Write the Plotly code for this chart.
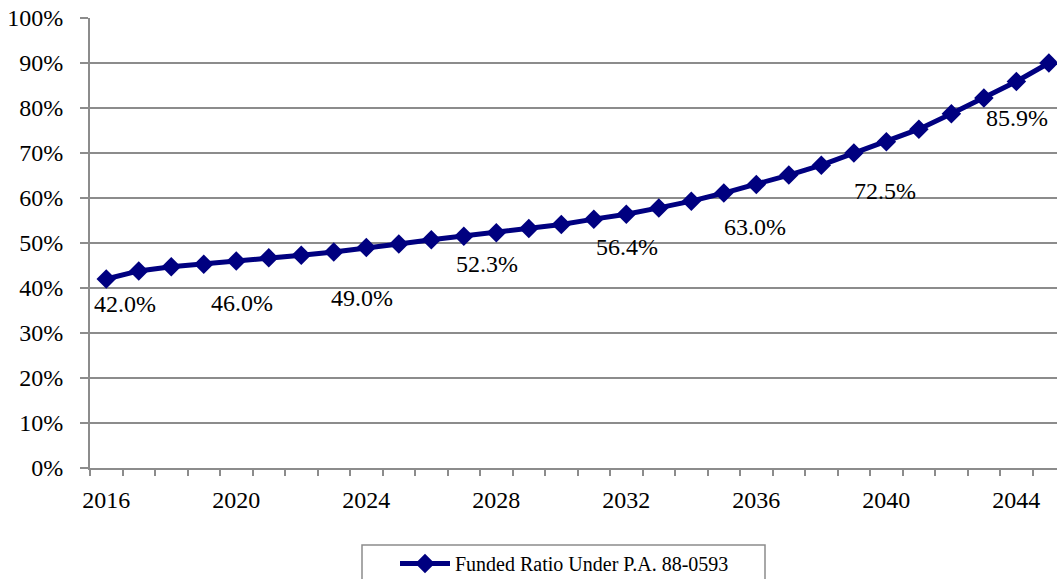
import plotly.graph_objects as go

years = list(range(2016, 2046))
funded_ratio = [42.0, 43.8, 44.7, 45.3, 46.0, 46.7, 47.3, 48.0, 49.0, 49.8,
                50.7, 51.5, 52.3, 53.2, 54.1, 55.3, 56.4, 57.8, 59.3, 61.1,
                63.0, 65.1, 67.3, 70.0, 72.5, 75.3, 78.7, 82.2, 85.9, 90.0]
label_years = [2016, 2020, 2024, 2028, 2032, 2036, 2040, 2044]
tick_years = [2016, 2020, 2024, 2028, 2032, 2036, 2040, 2044]
series_name = "Funded Ratio Under P.A. 88-0593"

# label placement offsets (pixels) – style only
label_dx = [19, 6, -4, -9, 1, -1, -1, 1]
label_dy = [-25, -42, -50, -31, -33, -42, -49, -37]

FONT = "Liberation Serif, Times New Roman, serif"
NAVY = "#000080"
GRID = "#8c8c8c"

fig = go.Figure()
fig.add_trace(go.Scatter(
    x=years, y=funded_ratio, mode="lines+markers", name=series_name,
    line=dict(color=NAVY, width=5),
    marker=dict(symbol="diamond", size=15, color=NAVY),
    showlegend=True,
))

for i, yr in enumerate(label_years):
    v = funded_ratio[years.index(yr)]
    fig.add_annotation(x=yr, y=v, text=f"{v:.1f}%", showarrow=False,
                       xshift=label_dx[i], yshift=label_dy[i],
                       font=dict(family=FONT, size=24, color="black"))

# legend frame (reference box is wider than the legend entry)
fig.add_shape(type="rect", xref="paper", yref="paper",
              x0=(362 - 90) / 967, x1=(765 - 90) / 967,
              y0=-(585 - 468) / 450, y1=-(545 - 468) / 450,
              line=dict(color=GRID, width=1.5), fillcolor="rgba(0,0,0,0)")

fig.update_layout(
    width=1057, height=579,
    margin=dict(l=90, r=0, t=18, b=111, autoexpand=False),
    paper_bgcolor="white", plot_bgcolor="white",
    font=dict(family=FONT, size=24, color="black"),
    showlegend=True,
    legend=dict(x=(395 - 90) / 967, y=-(544 - 468) / 450, xanchor="left",
                yanchor="top", orientation="h", borderwidth=0,
                bgcolor="rgba(0,0,0,0)",
                font=dict(family=FONT, size=20, color="black"),
                itemwidth=50),
    xaxis=dict(range=[2015.5, 2045.25], tickvals=tick_years,
               ticktext=[str(t) for t in tick_years], ticks="",
               showgrid=False, zeroline=False, showline=True,
               linecolor=GRID, linewidth=2, ticklabelstandoff=9,
               minor=dict(tick0=2015.5, dtick=1, ticks="outside", ticklen=6,
                          tickcolor=GRID, tickwidth=2, showgrid=False),
               tickfont=dict(family=FONT, size=24)),
    yaxis=dict(range=[0, 100], tickvals=list(range(0, 101, 10)),
               ticktext=[f"{v}%" for v in range(0, 101, 10)],
               ticks="outside", ticklen=8, tickcolor=GRID, tickwidth=2,
               showgrid=True, gridcolor=GRID, gridwidth=2,
               zeroline=False, showline=True, linecolor=GRID, linewidth=2,
               ticklabelstandoff=12,
               tickfont=dict(family=FONT, size=24)),
)

fig.write_html("out.html", config={"displayModeBar": False},
               post_script="document.body.style.margin='0';document.body.style.overflow='hidden';")
